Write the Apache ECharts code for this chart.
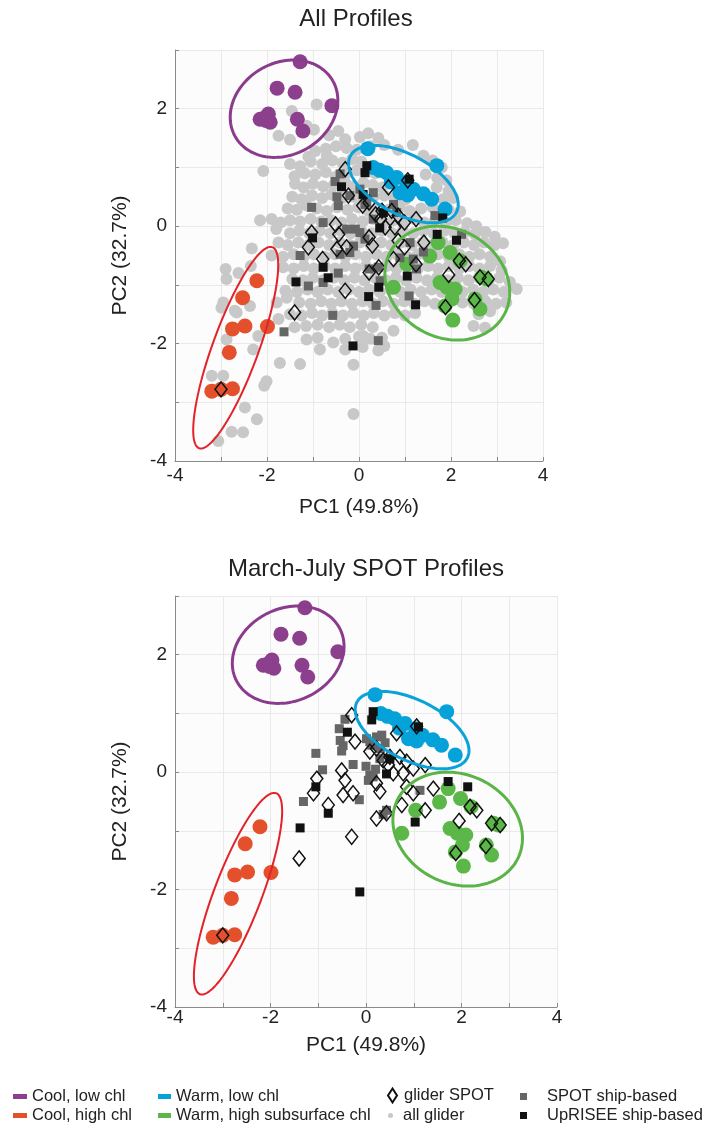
<!DOCTYPE html>
<html>
<head>
<meta charset="utf-8">
<script src="https://cdn.jsdelivr.net/npm/echarts@6/dist/echarts.min.js"></script>
<style>
html, body { margin: 0; padding: 0; background: #fff; }
#main { width: 706px; height: 1124px; }
</style>
</head>
<body>
<div id="main"></div>
<script>
// cluster members (same in both panels)
const coolLow = [[-1.28,2.80],[-1.78,2.35],[-1.39,2.28],[-0.59,2.05],[-1.97,1.91],[-2.15,1.82],[-1.93,1.77],[-2.04,1.85],[-1.34,1.82],[-1.22,1.62],[-2.02,1.80]];
const coolHigh = [[-2.22,-0.93],[-2.53,-1.22],[-2.75,-1.75],[-2.48,-1.70],[-1.99,-1.71],[-2.82,-2.15],[-3.20,-2.81],[-3.00,-2.78],[-2.75,-2.77]];
const warmLow = [[0.19,1.32],[1.69,1.03],[0.31,1.00],[0.45,0.95],[0.60,0.91],[0.82,0.83],[1.04,0.74],[1.18,0.63],[1.40,0.55],[1.58,0.46],[1.87,0.29],[0.89,0.57],[1.06,0.53],[0.70,0.75]];
const warmHigh = [[1.72,-0.28],[1.98,-0.45],[2.20,-0.59],[1.04,-0.65],[0.75,-1.04],[1.76,-0.96],[1.91,-1.04],[2.09,-1.07],[2.02,-1.24],[1.87,-1.36],[2.04,-1.60],[2.52,-1.24],[2.63,-1.41],[2.67,-0.87],[2.77,-0.90],[1.54,-0.51]];

// ellipses: [cx, cy, ux, uy, vx, vy]
const ellipseCoolLow = [-1.63, 2.00, 1.058, 0.479, 0.499, -0.677];
const ellipseCoolHigh = [-2.68, -2.07, 0.796, 1.712, 0.47, -0.134];
const ellipseWarmLow = [0.965, 0.716, 1.152, -0.48, -0.306, -0.451];
const ellipseWarmHigh = [1.92, -0.97, 1.224, -0.554, -0.587, -0.797];

const gliderSpot = [[-0.30,0.97],[0.64,0.66],[1.06,0.78],[-0.23,0.52],[0.08,0.35],[0.22,0.40],[0.36,0.20],[0.50,0.26],[0.71,0.26],[0.85,0.18],[-0.51,0.03],[-0.44,-0.14],[-1.03,-0.11],[-1.10,-0.36],[-0.48,-0.39],[-0.27,-0.36],[-0.79,-0.56],[0.22,-0.19],[0.29,-0.33],[0.47,0.12],[0.57,-0.02],[0.78,-0.02],[0.99,0.06],[1.24,0.12],[0.85,-0.25],[0.99,-0.36],[1.41,-0.28],[1.24,-0.65],[0.75,-0.56],[0.22,-0.79],[0.43,-0.70],[-0.30,-1.10],[-1.40,-1.47],[2.18,-0.59],[2.32,-0.65],[1.95,-0.83],[2.63,-0.87],[2.81,-0.90],[2.51,-1.26],[1.88,-1.38],[-3.00,-2.78]];

const spotShipAll = [[-0.41,0.89],[-0.52,0.76],[-0.48,0.50],[-0.45,0.35],[-0.20,0.52],[0.02,0.63],[0.17,0.40],[0.31,0.57],[0.13,0.37],[0.75,0.37],[0.82,0.23],[0.31,0.12],[0.02,-0.11],[0.13,-0.22],[-0.12,-0.34],[-0.27,-0.05],[-0.08,-0.05],[-1.03,0.32],[-0.78,0.06],[-1.28,-0.50],[-0.41,-0.48],[-0.20,-0.45],[0.22,-0.73],[0.42,-0.70],[0.46,-0.93],[0.89,-0.54],[1.18,-0.56],[1.40,-0.44],[1.65,0.18],[2.23,-0.14],[1.11,-0.28],[-1.10,-1.02],[-1.63,-1.80],[-0.57,-1.52],[-0.45,-0.80],[-0.78,-0.96],[0.37,-1.35],[0.42,-1.95],[1.09,-1.19],[1.25,-0.73]];
const upriseeAll = [[0.17,1.03],[0.13,0.91],[-0.38,0.67],[1.09,0.80],[0.09,0.54],[0.53,0.23],[0.45,-0.03],[1.82,0.14],[1.70,-0.14],[2.12,-0.24],[-1.01,-0.20],[-0.78,-0.70],[-1.37,-0.95],[-0.67,-0.88],[0.43,-1.04],[1.05,-0.85],[0.21,-1.20],[1.23,-1.34],[-0.13,-2.04]];

const spotShipMarJul = [[-0.44,0.90],[-0.56,0.74],[-0.54,0.54],[-0.48,0.45],[-0.51,0.36],[-1.05,0.32],[-0.91,0.04],[-0.27,0.13],[-1.31,-0.50],[-0.14,-0.47],[0.01,0.57],[0.12,0.46],[0.22,0.60],[0.33,0.63],[0.08,0.52],[0.29,0.23],[0.08,-0.05],[0.05,-0.14],[0.15,-0.08],[0.00,0.10],[0.20,0.05],[0.36,-0.72],[0.43,-0.65],[1.13,-0.31],[0.30,0.40],[0.40,0.50]];
const upriseeMarJul = [[0.15,1.03],[0.12,0.89],[-0.39,0.68],[1.10,0.77],[0.50,0.23],[0.43,-0.03],[-1.05,-0.25],[-0.79,-0.70],[-1.38,-0.95],[1.03,-0.85],[1.72,-0.16],[2.13,-0.25],[-0.13,-2.04]];

const allGlider = [
  [-0.65,1.55],[-0.3,1.48],[0.02,1.52],[0.2,1.58],[0.42,1.5],[1.17,1.38],[-1.75,1.54],[-1.5,1.47],[-1.14,1.71],[-0.98,1.64],[-0.92,2.07],[-1.46,1.96],[-0.45,1.62],
  [-0.95,1.28],[-0.72,1.32],[-0.5,1.36],[-0.27,1.33],[-0.05,1.3],[0.25,1.36],[0.55,1.38],[0.85,1.3],[1.4,1.2],[1.6,1.12],[-1.1,1.18],
  [-1.5,1.06],[-1.28,1.02],[-1.05,1.1],[-0.8,1.06],[-0.58,1.12],[-0.36,1.08],[-0.15,1.14],[0.05,1.1],[1.8,1.0],[-2.08,0.94],[-0.7,1.2],
  [-1.4,0.85],[-1.18,0.9],[-0.95,0.88],[-0.72,0.92],[-0.5,0.84],[-0.28,0.9],[-0.05,0.95],[0.35,0.9],[1.45,0.88],[1.7,0.82],[1.9,0.78],
  [-1.39,0.72],[-1.2,0.66],[-1.0,0.72],[-0.78,0.68],[-0.55,0.7],[-0.3,0.74],[-0.1,0.68],[0.1,0.74],[0.3,0.7],[0.5,0.66],[1.69,0.66],[1.95,0.6],
  [-1.45,0.5],[-1.25,0.46],[-1.02,0.52],[-0.8,0.48],[-0.6,0.54],[-0.35,0.48],[-0.12,0.5],[0.1,0.46],[0.32,0.5],[0.55,0.52],[0.78,0.48],[1.0,0.45],[1.83,0.46],[2.05,0.48],
  [-1.55,0.3],[-1.35,0.28],[-1.14,0.35],[-0.92,0.3],[-0.7,0.26],[-0.48,0.32],[-0.25,0.28],[-0.02,0.32],[0.2,0.26],[0.42,0.3],[0.65,0.28],[0.88,0.32],[1.1,0.26],[1.35,0.3],[1.6,0.32],[1.95,0.28],[2.2,0.25],
  [-2.15,0.1],[-1.9,0.12],[-1.7,0.06],[-1.5,0.1],[-1.28,0.08],[-1.05,0.12],[-0.82,0.08],[-0.6,0.1],[-0.38,0.06],[-0.15,0.12],[0.08,0.08],[0.3,0.12],[0.52,0.06],[0.75,0.1],[0.98,0.08],[1.2,0.12],[1.42,0.06],[1.65,0.1],[1.88,0.06],[2.1,0.1],[2.35,0.05],[2.55,0.0],
  [-1.5,-0.12],[-1.3,-0.08],[-1.08,-0.12],[-0.85,-0.08],[-0.62,-0.12],[-0.4,-0.08],[-0.18,-0.12],[0.05,-0.08],[0.28,-0.12],[0.5,-0.08],[0.72,-0.12],[0.95,-0.08],[1.18,-0.12],[1.4,-0.08],[1.62,-0.12],[1.85,-0.08],[2.08,-0.12],[2.3,-0.1],[2.52,-0.14],[2.75,-0.1],[2.95,-0.18],[-1.8,-0.05],
  [-1.75,-0.28],[-1.55,-0.32],[-1.32,-0.28],[-1.1,-0.32],[-0.88,-0.28],[-0.65,-0.32],[-0.42,-0.28],[-0.2,-0.32],[0.02,-0.28],[0.25,-0.32],[0.48,-0.28],[0.7,-0.32],[0.92,-0.28],[1.15,-0.32],[1.38,-0.28],[1.6,-0.32],[1.82,-0.28],[2.05,-0.32],[2.28,-0.28],[2.5,-0.32],[2.72,-0.28],[2.95,-0.32],[3.13,-0.29],[-2.33,-0.38],
  [-1.9,-0.5],[-1.65,-0.52],[-1.42,-0.48],[-1.2,-0.52],[-0.98,-0.48],[-0.75,-0.52],[-0.52,-0.48],[-0.3,-0.52],[-0.08,-0.48],[0.15,-0.52],[0.38,-0.48],[0.6,-0.52],[0.82,-0.48],[1.05,-0.52],[1.28,-0.48],[1.5,-0.52],[1.72,-0.48],[1.95,-0.52],[2.18,-0.48],[2.4,-0.52],[2.62,-0.48],[2.85,-0.52],[3.07,-0.6],
  [-2.9,-0.73],[-2.62,-0.8],[-2.35,-0.68],[-1.65,-0.7],[-1.42,-0.72],[-1.2,-0.68],[-0.98,-0.72],[-0.75,-0.68],[-0.52,-0.72],[-0.3,-0.68],[-0.08,-0.72],[0.15,-0.68],[0.38,-0.72],[0.6,-0.68],[0.82,-0.72],[1.05,-0.68],[1.28,-0.72],[1.5,-0.68],[1.72,-0.72],[1.95,-0.68],[2.18,-0.72],[2.4,-0.68],[2.62,-0.72],[2.85,-0.68],[3.1,-0.75],
  [-2.88,-0.9],[-1.45,-0.9],[-1.22,-0.92],[-1.0,-0.88],[-0.78,-0.92],[-0.55,-0.88],[-0.32,-0.92],[-0.1,-0.88],[0.12,-0.92],[0.35,-0.88],[0.58,-0.92],[0.8,-0.88],[1.02,-0.92],[1.25,-0.88],[1.48,-0.92],[1.7,-0.88],[1.92,-0.92],[2.15,-0.88],[2.38,-0.92],[2.6,-0.88],[2.82,-0.92],[3.05,-0.88],[3.28,-0.95],
  [-1.6,-1.1],[-1.35,-1.12],[-1.12,-1.08],[-0.9,-1.12],[-0.68,-1.08],[-0.45,-1.12],[-0.22,-1.08],[0.0,-1.12],[0.22,-1.08],[0.45,-1.12],[0.68,-1.08],[0.9,-1.12],[1.12,-1.08],[1.35,-1.12],[1.58,-1.08],[1.8,-1.12],[2.02,-1.08],[2.25,-1.12],[2.48,-1.08],[2.7,-1.12],[2.92,-1.08],[3.15,-1.12],[3.43,-1.07],
  [-2.95,-1.3],[-2.37,-1.36],[-1.79,-1.3],[-1.57,-1.22],[-1.3,-1.3],[-1.05,-1.32],[-0.82,-1.28],[-0.6,-1.32],[-0.38,-1.28],[-0.15,-1.32],[0.08,-1.28],[0.3,-1.32],[0.52,-1.28],[0.75,-1.32],[0.98,-1.28],[1.2,-1.32],[1.42,-1.28],[1.65,-1.32],[2.25,-1.3],[2.5,-1.32],[2.75,-1.28],[2.98,-1.32],[3.2,-1.3],
  [-2.99,-1.39],[-2.7,-1.44],[-2.66,-1.47],[-1.75,-1.58],[-1.5,-1.5],[-1.25,-1.52],[-1.02,-1.48],[-0.8,-1.52],[-0.58,-1.48],[-0.35,-1.52],[-0.12,-1.48],[0.1,-1.52],[0.32,-1.48],[0.55,-1.52],[0.78,-1.48],[1.0,-1.52],[1.22,-1.48],[2.6,-1.5],[2.85,-1.45],
  [-1.4,-1.72],[-1.15,-1.7],[-0.9,-1.68],[-0.65,-1.72],[-0.42,-1.68],[-0.2,-1.72],[0.05,-1.68],[0.3,-1.72],[0.75,-1.78],[2.49,-1.7],[2.74,-1.73],[0.09,-1.87],
  [-2.88,-1.93],[-2.19,-1.87],[-1.14,-1.93],[-0.9,-1.9],[-0.56,-1.98],[-0.3,-1.92],[0.0,-1.88],[0.25,-1.92],[0.5,-1.9],
  [-0.85,-2.1],[-0.3,-2.1],[0.08,-2.06],[0.42,-2.12],[0.55,-2.04],
  [-0.12,-2.36],[-1.72,-2.33],[-1.28,-2.35],[-3.2,-2.55],[-2.95,-2.55],[-2.01,-2.64],[-2.06,-2.72],[-2.48,-3.09],[-2.22,-3.29],[-2.77,-3.5],[-2.52,-3.51],[-3.06,-3.66],[-0.12,-3.2],[-2.3,-2.1],[-2.45,-1.72]
];

const xTicks = [-4, -2, 0, 2, 4];
const yTicks = [-4, -2, 0, 2];

const FONT = 'Liberation Sans';
const TXT = '#222';
const PURPLE = '#8b3f8d', RED = '#e4502b', BLUE = '#05a2da', GREEN = '#5bb748';

function scatter(name, data, idx, opts) {
    return Object.assign({
        name: name,
        type: 'scatter',
        xAxisIndex: idx,
        yAxisIndex: idx,
        data: data,
        symbol: 'circle',
        symbolSize: 15,
        silent: true
    }, opts);
}

function ellipse(p, color, lw, idx) {
    return {
        type: 'custom',
        xAxisIndex: idx,
        yAxisIndex: idx,
        silent: true,
        z: 10,
        data: [[p[0], p[1]]],
        renderItem: function (params, api) {
            const pts = [];
            for (let i = 0; i <= 120; i++) {
                const t = i / 120 * Math.PI * 2;
                pts.push(api.coord([
                    p[0] + p[2] * Math.cos(t) + p[4] * Math.sin(t),
                    p[1] + p[3] * Math.cos(t) + p[5] * Math.sin(t)
                ]));
            }
            return { type: 'polyline', shape: { points: pts }, style: { fill: 'none', stroke: color, lineWidth: lw } };
        }
    };
}

function panelSeries(idx, ship, uprisee) {
    return [
        scatter('Cool, low chl', coolLow, idx, { itemStyle: { color: PURPLE, opacity: 1 }, z: 3 }),
        scatter('Cool, high chl', coolHigh, idx, { itemStyle: { color: RED, opacity: 1 }, z: 3 }),
        scatter('Warm, low chl', warmLow, idx, { itemStyle: { color: BLUE, opacity: 1 }, z: 3 }),
        scatter('Warm, high subsurface chl', warmHigh, idx, { itemStyle: { color: GREEN, opacity: 1 }, z: 3 }),
        scatter('SPOT ship-based', ship, idx, { symbol: 'rect', symbolSize: 9, itemStyle: { color: '#666666', opacity: 1 }, z: 4 }),
        scatter('UpRISEE ship-based', uprisee, idx, { symbol: 'rect', symbolSize: 9, itemStyle: { color: '#111111', opacity: 1 }, z: 5 }),
        scatter('glider SPOT', gliderSpot, idx, { symbol: 'diamond', symbolSize: [12, 15], itemStyle: { color: 'rgba(0,0,0,0)', borderColor: '#111', borderWidth: 1.5, opacity: 1 }, z: 6 }),
        ellipse(ellipseCoolLow, '#8a3b8d', 3, idx),
        ellipse(ellipseCoolHigh, '#e2232a', 2, idx),
        ellipse(ellipseWarmLow, '#0ba1d9', 3, idx),
        ellipse(ellipseWarmHigh, '#5ab447', 3, idx)
    ];
}

function xAxis(idx, nameGap, labelMargin) {
    return {
        type: 'value', gridIndex: idx, min: -4, max: 4, interval: 1,
        name: 'PC1 (49.8%)', nameLocation: 'middle', nameGap: nameGap,
        nameTextStyle: { fontFamily: FONT, fontSize: 21, color: TXT },
        axisLine: { show: true, onZero: false, lineStyle: { color: '#8a8a8a', width: 1 } },
        axisTick: { show: true, inside: true, length: 4, lineStyle: { color: '#8a8a8a' } },
        axisLabel: { fontFamily: FONT, fontSize: 19, color: TXT, margin: labelMargin,
            formatter: v => xTicks.indexOf(v) >= 0 ? String(v) : '' },
        splitLine: { show: true, lineStyle: { color: '#e9e9e9', width: 1 } }
    };
}

function yAxis(idx) {
    return {
        type: 'value', gridIndex: idx, min: -4, max: 3, interval: 1,
        name: 'PC2 (32.7%)', nameLocation: 'middle', nameGap: 44, nameRotate: 90,
        nameTextStyle: { fontFamily: FONT, fontSize: 21, color: TXT },
        axisLine: { show: true, onZero: false, lineStyle: { color: '#8a8a8a', width: 1 } },
        axisTick: { show: true, inside: true, length: 4, lineStyle: { color: '#8a8a8a' } },
        axisLabel: { fontFamily: FONT, fontSize: 19, color: TXT, margin: 8,
            formatter: v => yTicks.indexOf(v) >= 0 ? String(v) : '' },
        splitLine: { show: true, lineStyle: { color: '#e9e9e9', width: 1 } }
    };
}

function legendItem(name, icon, left, top, w, h, textPad) {
    return {
        data: [{ name: name, icon: icon }],
        left: left, top: top,
        itemWidth: w, itemHeight: h,
        selectedMode: false,
        padding: 0,
        textStyle: { fontFamily: FONT, fontSize: 16.5, color: TXT, padding: [0, 0, 0, textPad] }
    };
}

const chart = echarts.init(document.getElementById('main'), null, { renderer: 'canvas' });

chart.setOption({
    animation: false,
    backgroundColor: '#ffffff',
    title: [
        { text: 'All Profiles', left: 356, top: 7, textAlign: 'center', padding: 0,
          textStyle: { fontFamily: FONT, fontSize: 24, fontWeight: 'normal', color: TXT } },
        { text: 'March-July SPOT Profiles', left: 366, top: 557, textAlign: 'center', padding: 0,
          textStyle: { fontFamily: FONT, fontSize: 24, fontWeight: 'normal', color: TXT } }
    ],
    grid: [
        { left: 175, top: 50, width: 368, height: 411, show: true, backgroundColor: '#fcfcfc', borderWidth: 0 },
        { left: 175, top: 596, width: 382, height: 411, show: true, backgroundColor: '#fcfcfc', borderWidth: 0 }
    ],
    xAxis: [xAxis(0, 36, 5), xAxis(1, 28, 1)],
    yAxis: [yAxis(0), yAxis(1)],
    legend: [
        legendItem('Cool, low chl', 'rect', 13, 1088, 14, 5, 0),
        legendItem('Cool, high chl', 'rect', 13, 1107, 14, 5, 0),
        legendItem('Warm, low chl', 'rect', 158, 1088, 13, 5, 0),
        legendItem('Warm, high subsurface chl', 'rect', 158, 1107, 13, 5, 0),
        legendItem('glider SPOT', 'diamond', 387, 1087, 9, 14, 2),
        legendItem('all glider', 'circle', 388, 1107, 5, 5, 5),
        legendItem('SPOT ship-based', 'rect', 520, 1088, 7, 7, 15),
        legendItem('UpRISEE ship-based', 'rect', 520, 1107, 7, 7, 15)
    ],
    series: [
        scatter('all glider', allGlider, 0, { symbolSize: 12, itemStyle: { color: '#c8c8c8', opacity: 1 }, z: 2 })
    ].concat(panelSeries(0, spotShipAll, upriseeAll), panelSeries(1, spotShipMarJul, upriseeMarJul))
});
</script>
</body>
</html>
